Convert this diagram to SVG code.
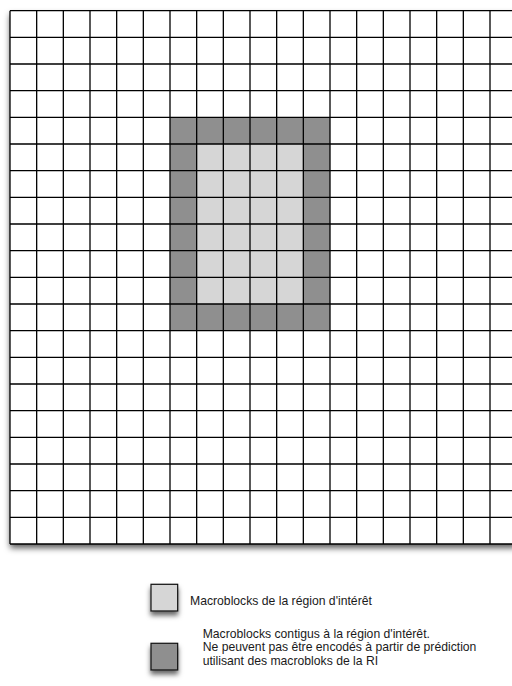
<svg xmlns="http://www.w3.org/2000/svg" width="512" height="686" viewBox="0 0 512 686">
<defs>
<filter id="sh" x="-10%" y="-10%" width="120%" height="120%">
<feDropShadow dx="0" dy="4" stdDeviation="3" flood-color="#000" flood-opacity="0.65"/>
</filter>
<filter id="sh2" x="-50%" y="-50%" width="200%" height="200%">
<feDropShadow dx="0" dy="4" stdDeviation="2.5" flood-color="#000" flood-opacity="0.6"/>
</filter>
</defs>
<style>
.grid{fill:none;stroke:#000;stroke-width:1.3}
.roi{fill:#d6d6d6}
.adj{fill:#8f8f8f}
.lbox{stroke:#111;stroke-width:1.2}
.t{font-family:"Liberation Sans",Arial,sans-serif;font-size:12.2px;fill:#1a1a1a}
</style>
<rect width="512" height="686" fill="#fff"/>
<g id="grid">
<rect x="10" y="10.67" width="506.67" height="533.33" fill="#fff" filter="url(#sh)"/>
<rect class="adj" x="170" y="117.33" width="160" height="213.33"/>
<rect class="roi" x="196.67" y="144" width="106.67" height="160"/>
<path class="grid" d="M10 10.67V544M36.67 10.67V544M63.33 10.67V544M90 10.67V544M116.67 10.67V544M143.33 10.67V544M170 10.67V544M196.67 10.67V544M223.33 10.67V544M250 10.67V544M276.67 10.67V544M303.33 10.67V544M330 10.67V544M356.67 10.67V544M383.33 10.67V544M410 10.67V544M436.67 10.67V544M463.33 10.67V544M490 10.67V544M516.67 10.67V544
M10 10.67H516.67M10 37.33H516.67M10 64H516.67M10 90.67H516.67M10 117.33H516.67M10 144H516.67M10 170.67H516.67M10 197.33H516.67M10 224H516.67M10 250.67H516.67M10 277.33H516.67M10 304H516.67M10 330.67H516.67M10 357.33H516.67M10 384H516.67M10 410.67H516.67M10 437.33H516.67M10 464H516.67M10 490.67H516.67M10 517.33H516.67M10 544H516.67"/>
</g>
<g id="legend-roi">
<rect class="lbox roi" x="151" y="584.3" width="26.67" height="26.67" filter="url(#sh2)"/>
<text class="t" x="190" y="605">Macroblocks de la région d'intérêt</text>
</g>
<g id="legend-adj">
<rect class="lbox adj" x="151" y="643.3" width="26.67" height="26.67" filter="url(#sh2)"/>
<text class="t" x="202.7" y="637.5">Macroblocks contigus à la région d'intérêt.</text>
<text class="t" x="202.7" y="651">Ne peuvent pas être encodés à partir de prédiction</text>
<text class="t" x="202.7" y="664.5">utilisant des macrobloks de la RI</text>
</g>
</svg>
